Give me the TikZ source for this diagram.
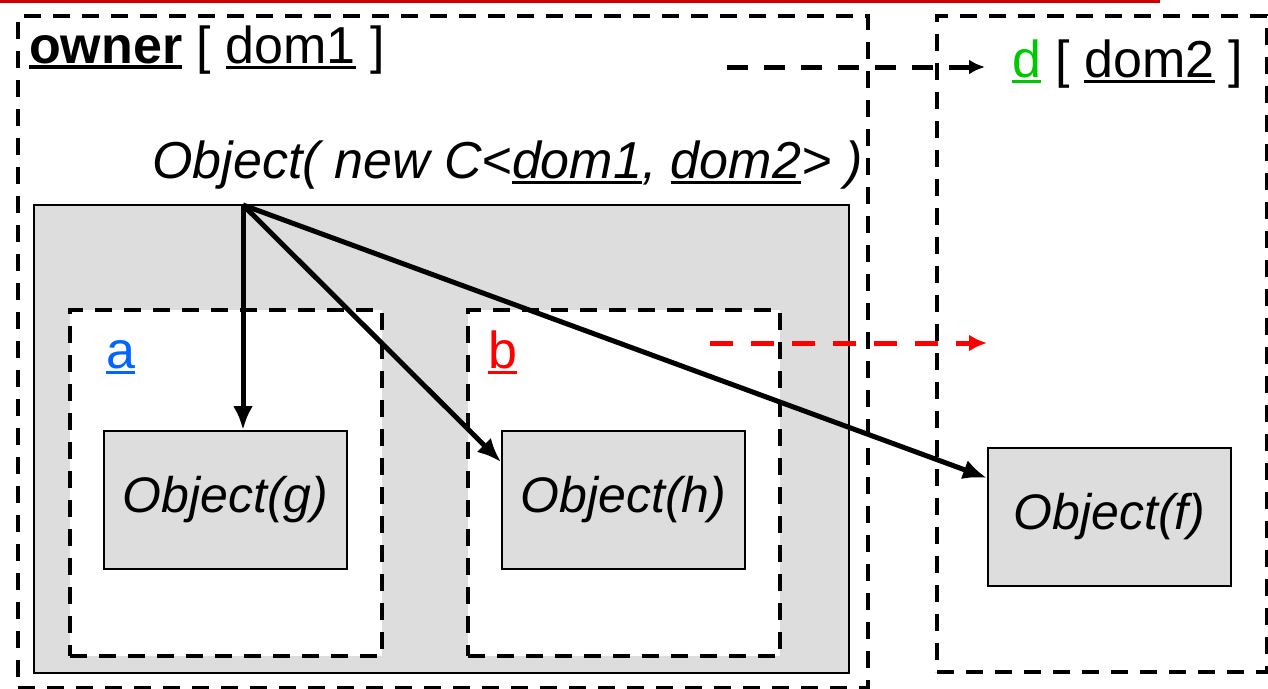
\documentclass[tikz,border=0pt]{standalone}
\usepackage{fontspec}
\setmainfont{Liberation Sans}
\usetikzlibrary{arrows.meta,calc}

\definecolor{boxgray}{RGB}{221,221,221}
\definecolor{linkblue}{RGB}{0,102,255}
\definecolor{dgreen}{RGB}{0,200,0}
\definecolor{slidered}{RGB}{204,0,0}

% underline with a rule of given thickness
\newcommand{\udl}[2][3pt]{\setbox0=\hbox{#2}\rlap{\rule[-6pt]{\wd0}{#1}}\box0\relax}

\tikzset{
  txt/.style={font=\fontsize{52}{60}\selectfont, inner sep=0pt},
  domainbox/.style={draw, line width=4pt, dash pattern=on 17pt off 12pt,
                    anchor=north west, inner sep=0pt},
  objbox/.style={draw, line width=2pt, fill=boxgray, anchor=north west,
                 inner sep=0pt, minimum width=243pt, minimum height=138pt,
                 font=\fontsize{50}{60}\selectfont\itshape},
  conn/.style={line width=5pt, -{Latex[length=24pt,width=20pt]}},
}

\begin{document}
\begin{tikzpicture}[x=1pt,y=-1pt]
    \useasboundingbox (0,0) rectangle (1268,688);

    % red rule of the slide
    \draw[slidered, line width=3pt] (0,1.5) -- (1160,1.5);

    % the two domains
    \node[domainbox, minimum width=850pt, minimum height=672pt] (owner) at (16,14) {};
    \node[domainbox, minimum width=330pt, minimum height=656pt] (dom) at (935,14) {};

    % object with its own domains a and b
    \node[draw, line width=2pt, fill=boxgray, anchor=north west, inner sep=0pt,
          minimum width=815pt, minimum height=468pt] (grp) at (33,204) {};
    \node[domainbox, fill=white, minimum width=312pt, minimum height=346pt] (a) at (68,308) {};
    \node[domainbox, fill=white, minimum width=312pt, minimum height=346pt] (b) at (466,308) {};

    % objects
    \node[objbox] (g) at (103,430) {Object(g)};
    \node[objbox] (h) at (501,430) {Object(h)};
    \node[objbox] (f) at (987,447) {Object(f)};

    % labels
    \node[txt, anchor=base west] (ownlbl) at (29,63)
        {\udl[4.5pt]{\textbf{owner}} [ \udl{dom1} ]};
    \node[txt, anchor=base west] (dlbl) at (1012,77)
        {{\color{dgreen}\udl{d}} [ \udl{dom2} ]};
    \node[txt, anchor=base west, font=\fontsize{52}{60}\selectfont\itshape] (ctor) at (152,178)
        {Object( new C<\udl{dom1}, \udl{dom2}> )};
    \node[txt, anchor=base west, text=linkblue] (alb) at (106,368) {\udl{a}};
    \node[txt, anchor=base west, text=red] (blb) at (488,368) {\udl{b}};

    % links from the new object
    \coordinate (src) at (243,205);
    \draw[conn] (src) -- (src |- g.north);
    \draw[conn] (src) -- ($(h.north west)+(0,32)$);
    \draw[conn] (src) -- ($(f.north west)+(0,31)$);

    % dashed pointers
    \coordinate (dstart) at (727,67);
    \draw[line width=5pt, dash pattern=on 21pt off 16pt,
          -{Latex[length=16pt,width=15pt]}, shorten >=27pt] (dstart) -- (dstart -| dlbl.west);
    \coordinate (rstart) at (710,343);
    \draw[red, line width=5pt, dash pattern=on 23pt off 18pt,
          -{Latex[length=18pt,width=17pt]}] (rstart) -- (rstart -| f.west);
\end{tikzpicture}
\end{document}
